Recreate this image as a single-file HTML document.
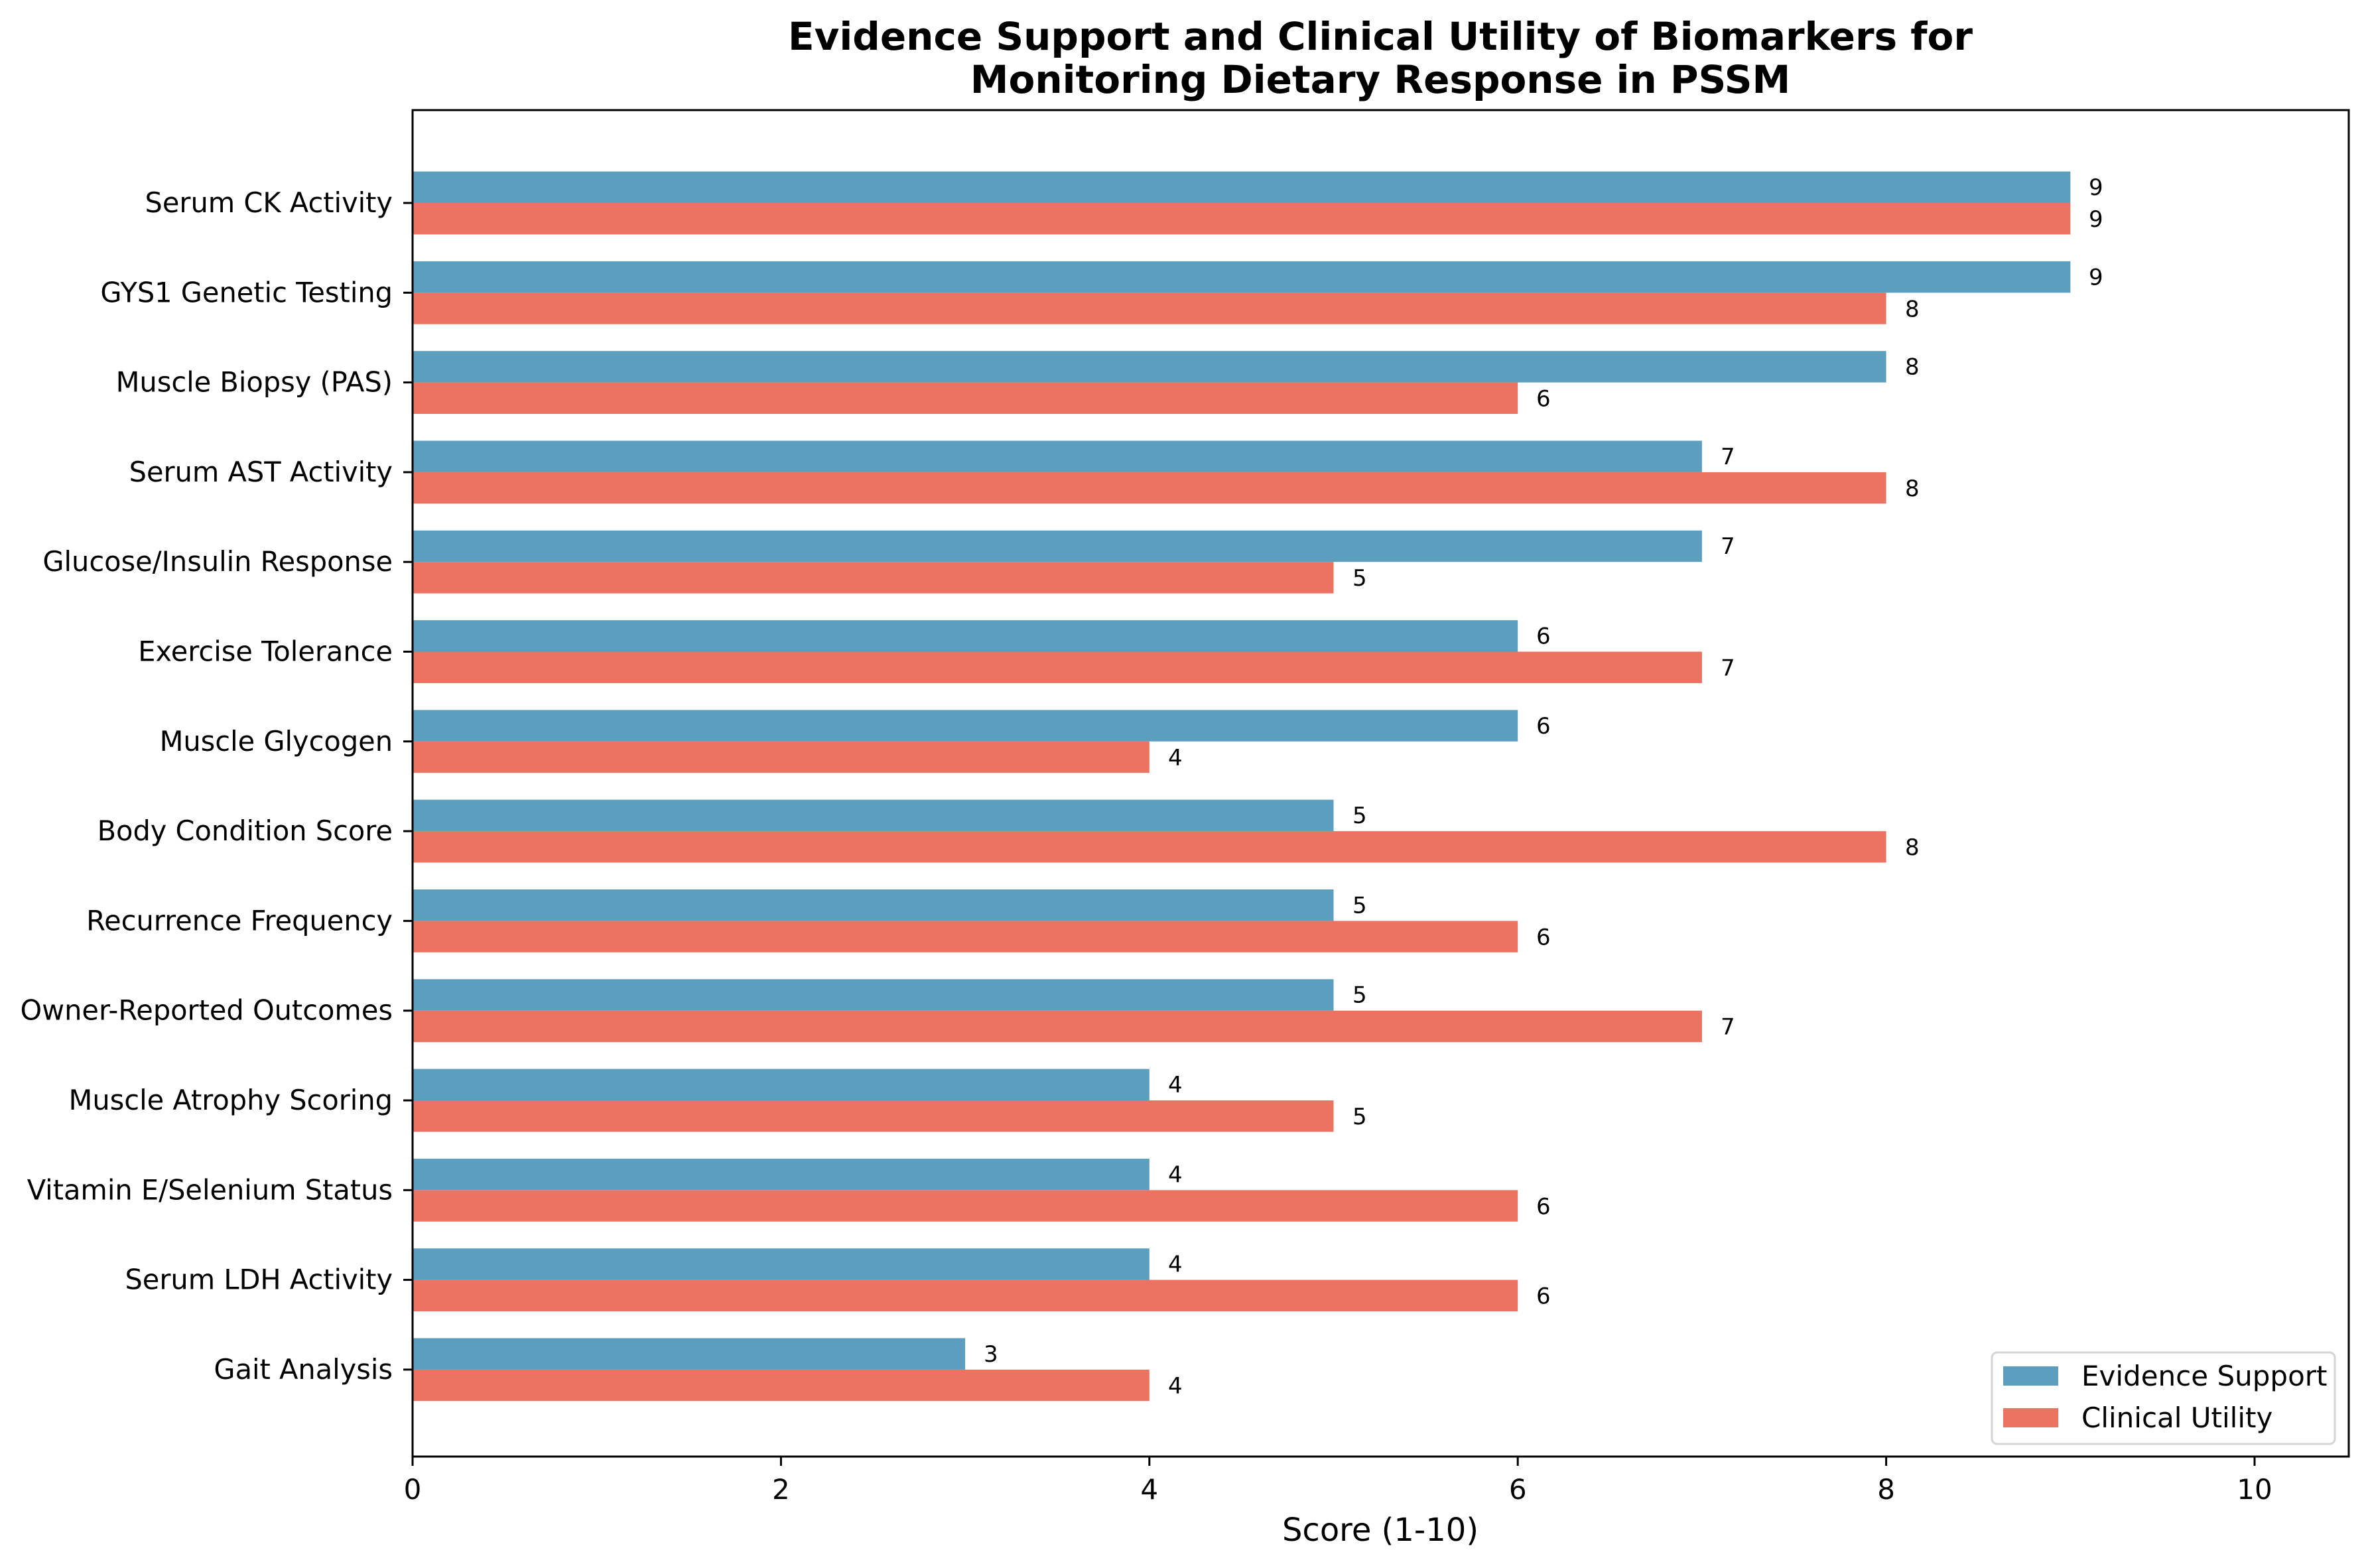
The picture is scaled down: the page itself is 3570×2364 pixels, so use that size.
<!DOCTYPE html>
<html><head><meta charset="utf-8"><style>body{margin:0;background:#fff}svg{display:block}text{font-family:"DejaVu Sans","Liberation Sans",sans-serif}</style></head><body>
<svg width="3570" height="2364" viewBox="0 0 3570 2364" xmlns="http://www.w3.org/2000/svg">
<rect width="3570" height="2364" fill="#fff"/>
<text x="2081" y="75" font-size="58" font-weight="bold" text-anchor="middle">Evidence Support and Clinical Utility of Biomarkers for</text>
<text x="2081" y="140" font-size="58" font-weight="bold" text-anchor="middle">Monitoring Dietary Response in PSSM</text>
<defs><style>.b{fill:#5b9ebd}.r{fill:#ec7261}.v{font-size:34px}.l{font-size:41.5px;text-anchor:end}</style></defs>
<g transform="translate(0,306)"><rect class="b" x="622" y="-47.4" width="2499.3" height="47.4"/><rect class="r" x="622" y="0" width="2499.3" height="47.4"/><text class="v" x="3149" y="-12">9</text><text class="v" x="3149" y="36">9</text><line x1="608" x2="622" stroke="#000" stroke-width="3"/><text class="l" x="592" y="14">Serum CK Activity</text></g>
<g transform="translate(0,441.3)"><rect class="b" x="622" y="-47.4" width="2499.3" height="47.4"/><rect class="r" x="622" y="0" width="2221.6" height="47.4"/><text class="v" x="3149" y="-12">9</text><text class="v" x="2872" y="36">8</text><line x1="608" x2="622" stroke="#000" stroke-width="3"/><text class="l" x="592" y="14">GYS1 Genetic Testing</text></g>
<g transform="translate(0,576.6)"><rect class="b" x="622" y="-47.4" width="2221.6" height="47.4"/><rect class="r" x="622" y="0" width="1666.2" height="47.4"/><text class="v" x="2872" y="-12">8</text><text class="v" x="2316" y="36">6</text><line x1="608" x2="622" stroke="#000" stroke-width="3"/><text class="l" x="592" y="14">Muscle Biopsy (PAS)</text></g>
<g transform="translate(0,711.9)"><rect class="b" x="622" y="-47.4" width="1943.9" height="47.4"/><rect class="r" x="622" y="0" width="2221.6" height="47.4"/><text class="v" x="2594" y="-12">7</text><text class="v" x="2872" y="36">8</text><line x1="608" x2="622" stroke="#000" stroke-width="3"/><text class="l" x="592" y="14">Serum AST Activity</text></g>
<g transform="translate(0,847.2)"><rect class="b" x="622" y="-47.4" width="1943.9" height="47.4"/><rect class="r" x="622" y="0" width="1388.5" height="47.4"/><text class="v" x="2594" y="-12">7</text><text class="v" x="2039" y="36">5</text><line x1="608" x2="622" stroke="#000" stroke-width="3"/><text class="l" x="592" y="14">Glucose/Insulin Response</text></g>
<g transform="translate(0,982.5)"><rect class="b" x="622" y="-47.4" width="1666.2" height="47.4"/><rect class="r" x="622" y="0" width="1943.9" height="47.4"/><text class="v" x="2316" y="-12">6</text><text class="v" x="2594" y="36">7</text><line x1="608" x2="622" stroke="#000" stroke-width="3"/><text class="l" x="592" y="14">Exercise Tolerance</text></g>
<g transform="translate(0,1117.8)"><rect class="b" x="622" y="-47.4" width="1666.2" height="47.4"/><rect class="r" x="622" y="0" width="1110.8" height="47.4"/><text class="v" x="2316" y="-12">6</text><text class="v" x="1761" y="36">4</text><line x1="608" x2="622" stroke="#000" stroke-width="3"/><text class="l" x="592" y="14">Muscle Glycogen</text></g>
<g transform="translate(0,1253.1)"><rect class="b" x="622" y="-47.4" width="1388.5" height="47.4"/><rect class="r" x="622" y="0" width="2221.6" height="47.4"/><text class="v" x="2039" y="-12">5</text><text class="v" x="2872" y="36">8</text><line x1="608" x2="622" stroke="#000" stroke-width="3"/><text class="l" x="592" y="14">Body Condition Score</text></g>
<g transform="translate(0,1388.4)"><rect class="b" x="622" y="-47.4" width="1388.5" height="47.4"/><rect class="r" x="622" y="0" width="1666.2" height="47.4"/><text class="v" x="2039" y="-12">5</text><text class="v" x="2316" y="36">6</text><line x1="608" x2="622" stroke="#000" stroke-width="3"/><text class="l" x="592" y="14">Recurrence Frequency</text></g>
<g transform="translate(0,1523.7)"><rect class="b" x="622" y="-47.4" width="1388.5" height="47.4"/><rect class="r" x="622" y="0" width="1943.9" height="47.4"/><text class="v" x="2039" y="-12">5</text><text class="v" x="2594" y="36">7</text><line x1="608" x2="622" stroke="#000" stroke-width="3"/><text class="l" x="592" y="14">Owner-Reported Outcomes</text></g>
<g transform="translate(0,1659)"><rect class="b" x="622" y="-47.4" width="1110.8" height="47.4"/><rect class="r" x="622" y="0" width="1388.5" height="47.4"/><text class="v" x="1761" y="-12">4</text><text class="v" x="2039" y="36">5</text><line x1="608" x2="622" stroke="#000" stroke-width="3"/><text class="l" x="592" y="14">Muscle Atrophy Scoring</text></g>
<g transform="translate(0,1794.3)"><rect class="b" x="622" y="-47.4" width="1110.8" height="47.4"/><rect class="r" x="622" y="0" width="1666.2" height="47.4"/><text class="v" x="1761" y="-12">4</text><text class="v" x="2316" y="36">6</text><line x1="608" x2="622" stroke="#000" stroke-width="3"/><text class="l" x="592" y="14">Vitamin E/Selenium Status</text></g>
<g transform="translate(0,1929.6)"><rect class="b" x="622" y="-47.4" width="1110.8" height="47.4"/><rect class="r" x="622" y="0" width="1666.2" height="47.4"/><text class="v" x="1761" y="-12">4</text><text class="v" x="2316" y="36">6</text><line x1="608" x2="622" stroke="#000" stroke-width="3"/><text class="l" x="592" y="14">Serum LDH Activity</text></g>
<g transform="translate(0,2064.9)"><rect class="b" x="622" y="-47.4" width="833.1" height="47.4"/><rect class="r" x="622" y="0" width="1110.8" height="47.4"/><text class="v" x="1483" y="-12">3</text><text class="v" x="1761" y="36">4</text><line x1="608" x2="622" stroke="#000" stroke-width="3"/><text class="l" x="592" y="14">Gait Analysis</text></g>
<g stroke="#000" stroke-width="3">
<line x1="622" x2="622" y1="2196" y2="2210"/><line x1="1177.4" x2="1177.4" y1="2196" y2="2210"/><line x1="1732.8" x2="1732.8" y1="2196" y2="2210"/><line x1="2288.2" x2="2288.2" y1="2196" y2="2210"/><line x1="2843.6" x2="2843.6" y1="2196" y2="2210"/><line x1="3399" x2="3399" y1="2196" y2="2210"/>
</g>
<g font-size="42" text-anchor="middle">
<text x="622" y="2260">0</text><text x="1177.4" y="2260">2</text><text x="1732.8" y="2260">4</text><text x="2288.2" y="2260">6</text><text x="2843.6" y="2260">8</text><text x="3399" y="2260">10</text>
</g>
<rect x="622" y="166" width="2919" height="2030" fill="none" stroke="#000" stroke-width="3"/>
<text x="2081" y="2323" font-size="48" text-anchor="middle">Score (1-10)</text>
<rect x="3003" y="2039" width="517" height="138" rx="8" fill="#fff" stroke="#d5d5d5" stroke-width="3"/>
<rect x="3020" y="2060" width="83" height="29" fill="#5b9ebd"/>
<rect x="3020" y="2123" width="83" height="29" fill="#ec7261"/>
<text x="3138" y="2089" font-size="42">Evidence Support</text>
<text x="3138" y="2152" font-size="42">Clinical Utility</text>
</svg>
</body></html>
